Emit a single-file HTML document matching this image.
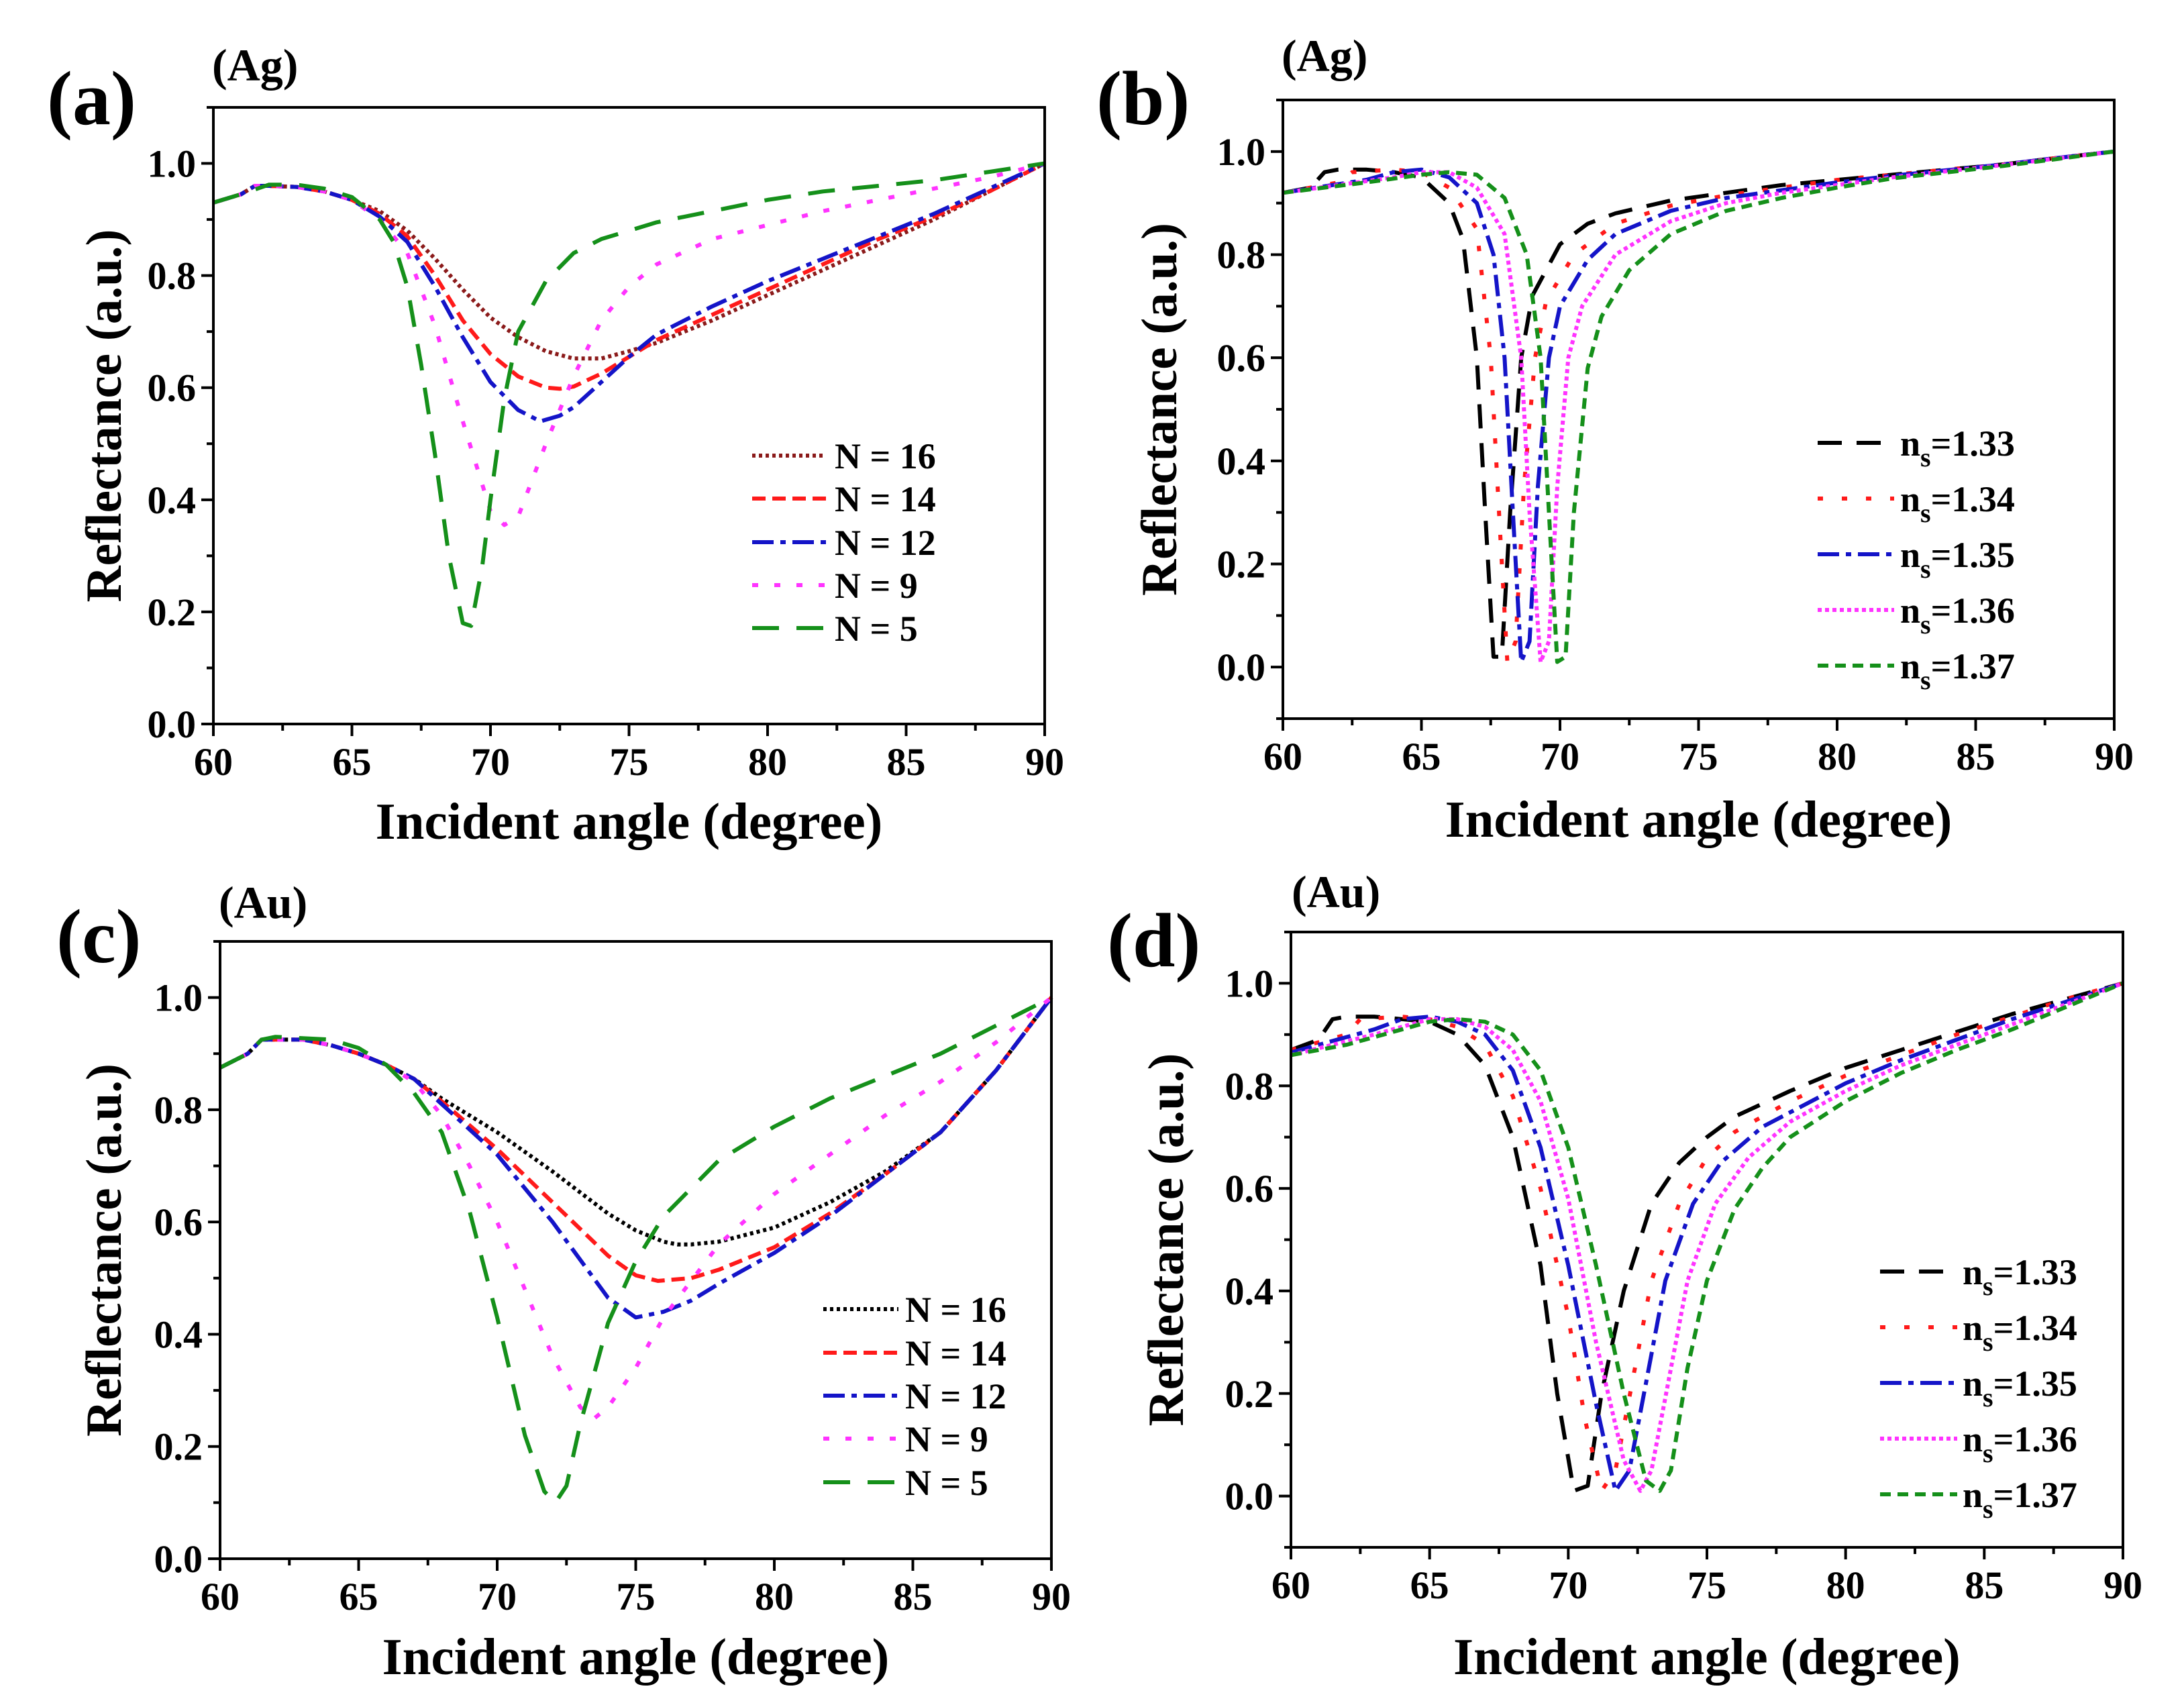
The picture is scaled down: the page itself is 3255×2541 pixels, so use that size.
<!DOCTYPE html>
<html><head><meta charset="utf-8">
<style>
html,body{margin:0;padding:0;background:#fff;}
svg{display:block;font-family:"Liberation Serif",serif;font-weight:bold;}
</style></head>
<body>
<svg id="fig" width="3255" height="2541" viewBox="0 0 3255 2541" xmlns="http://www.w3.org/2000/svg"></svg>
<script>
// ---- Data (angle in degrees, reflectance) ----
const xTicks = [60,65,70,75,80,85,90];
const yTicksA = [0.0,0.2,0.4,0.6,0.8,1.0];
const legendA = ["N = 16","N = 14","N = 12","N = 9","N = 5"];
const legendB = ["1.33","1.34","1.35","1.36","1.37"];

// Panel (a) Ag, layer count
const aX16 = [60,61,61.5,62,63,64,65,66,67,68,69,70,71,72,73,74,75,76,78,80,82,84,86,88,90];
const aY16 = [0.93,0.945,0.96,0.96,0.958,0.95,0.935,0.915,0.88,0.83,0.775,0.725,0.69,0.665,0.652,0.652,0.665,0.68,0.72,0.765,0.81,0.855,0.9,0.95,1.0];
const aX14 = [60,61,61.5,62,63,64,65,66,67,68,69,70,71,72,72.5,73,74,75,76,78,80,82,84,86,88,90];
const aY14 = [0.93,0.945,0.96,0.96,0.958,0.95,0.935,0.91,0.87,0.8,0.72,0.66,0.62,0.6,0.598,0.602,0.625,0.655,0.685,0.73,0.775,0.82,0.865,0.905,0.95,1.0];
const aX12 = [60,61,61.5,62,63,64,65,66,67,68,69,70,71,71.8,72.5,73,74,75,76,78,80,82,84,86,88,90];
const aY12 = [0.93,0.945,0.96,0.96,0.958,0.95,0.935,0.905,0.86,0.78,0.69,0.61,0.56,0.54,0.55,0.565,0.61,0.655,0.695,0.745,0.79,0.83,0.87,0.91,0.955,1.0];
const aX9 = [60,61,61.5,62,63,64,65,66,67,68,69,70,70.5,71,72,73,74,75,76,78,80,82,84,86,88,90];
const aY9 = [0.93,0.945,0.96,0.96,0.958,0.95,0.935,0.9,0.84,0.71,0.54,0.38,0.355,0.37,0.5,0.62,0.72,0.78,0.82,0.865,0.89,0.915,0.935,0.955,0.975,1.0];
const aX5 = [60,61,62,63,64,65,66,66.5,67,67.5,68,68.5,69,69.3,69.7,70,70.5,71,72,73,74,75,76,78,80,82,84,86,88,90];
const aY5 = [0.93,0.945,0.962,0.962,0.955,0.94,0.9,0.86,0.78,0.64,0.48,0.3,0.18,0.175,0.28,0.4,0.58,0.7,0.79,0.84,0.865,0.88,0.895,0.915,0.935,0.95,0.96,0.97,0.985,1.0];

// Panel (b) Ag, analyte index
const bX33 = [60,61,61.5,62,63,64,65,66,66.5,67,67.3,67.6,67.9,68.2,68.6,69,70,71,72,74,76,78,80,82,84,86,88,90];
const bY33 = [0.92,0.93,0.96,0.965,0.965,0.96,0.95,0.9,0.83,0.6,0.3,0.02,0.02,0.3,0.6,0.72,0.82,0.86,0.88,0.905,0.92,0.935,0.945,0.955,0.965,0.975,0.988,1.0];
const bX34 = [60,62,62.5,64,65,66,67,67.5,67.8,68.1,68.4,68.7,69.1,69.5,70.5,72,74,76,78,80,82,84,86,88,90];
const bY34 = [0.92,0.94,0.96,0.965,0.96,0.93,0.85,0.6,0.3,0.01,0.05,0.35,0.6,0.71,0.8,0.86,0.895,0.915,0.93,0.945,0.955,0.965,0.975,0.988,1.0];
const bX35 = [60,63,64,65,66,67,67.6,68,68.3,68.6,68.9,69.2,69.6,70,71,72,74,76,78,80,82,84,86,88,90];
const bY35 = [0.92,0.945,0.96,0.965,0.95,0.9,0.8,0.6,0.3,0.01,0.05,0.35,0.6,0.7,0.79,0.84,0.885,0.91,0.925,0.94,0.953,0.964,0.975,0.988,1.0];
const bX36 = [60,64,65,66,67,68,68.6,68.9,69.3,69.6,69.9,70.3,70.8,72,74,76,78,80,82,84,86,88,90];
const bY36 = [0.92,0.95,0.96,0.96,0.93,0.84,0.6,0.3,0.01,0.05,0.35,0.6,0.7,0.8,0.865,0.9,0.92,0.935,0.95,0.962,0.974,0.987,1.0];
const bX37 = [60,63,65,66,67,68,68.8,69.3,69.6,69.9,70.2,70.5,71,71.5,72.5,74,76,78,80,82,84,86,88,90];
const bY37 = [0.92,0.94,0.955,0.96,0.955,0.91,0.8,0.6,0.3,0.01,0.02,0.3,0.58,0.68,0.77,0.84,0.885,0.91,0.93,0.948,0.96,0.972,0.986,1.0];

// Panel (c) Au, layer count
const cX16 = [60,61,61.5,62,63,64,65,66,67,68,70,72,74,75,76,76.5,77,78,80,82,84,86,88,90];
const cY16 = [0.875,0.9,0.925,0.925,0.925,0.915,0.9,0.88,0.855,0.82,0.76,0.69,0.615,0.585,0.565,0.56,0.56,0.565,0.59,0.635,0.69,0.76,0.87,1.0];
const cX14 = [60,61,61.5,62,63,64,65,66,67,68,70,72,74,75,75.8,77,78,80,82,84,86,88,90];
const cY14 = [0.875,0.9,0.925,0.925,0.925,0.915,0.9,0.88,0.855,0.815,0.73,0.635,0.54,0.505,0.495,0.5,0.515,0.555,0.615,0.685,0.76,0.87,1.0];
const cX12 = [60,61,61.5,62,63,64,65,66,67,68,70,72,74,75,76,77,78,80,82,84,86,88,90];
const cY12 = [0.875,0.9,0.925,0.925,0.925,0.915,0.9,0.88,0.855,0.81,0.72,0.6,0.465,0.43,0.44,0.46,0.49,0.545,0.61,0.685,0.76,0.87,1.0];
const cX9 = [60,61,61.5,62,63,64,65,66,67,68,69,70,71,72,73,73.5,74,75,76,78,80,82,84,86,88,90];
const cY9 = [0.875,0.9,0.925,0.925,0.925,0.915,0.9,0.88,0.85,0.79,0.7,0.6,0.48,0.36,0.27,0.25,0.27,0.34,0.43,0.56,0.65,0.72,0.79,0.85,0.92,1.0];
const cX5 = [60,61,61.5,62,64,65,66,67,68,69,70,71,71.7,72.1,72.5,73,74,75,76,78,80,82,84,86,88,90];
const cY5 = [0.875,0.9,0.925,0.93,0.925,0.91,0.88,0.83,0.76,0.62,0.43,0.22,0.12,0.1,0.13,0.24,0.42,0.53,0.61,0.71,0.77,0.82,0.86,0.9,0.95,1.0];

// Panel (d) Au, analyte index
const dX33 = [60,61,61.5,62,63,64,65,66,67,68,69,69.6,70.2,70.7,71.2,72,73,74,75,76,78,80,82,84,86,88,90];
const dY33 = [0.87,0.89,0.93,0.935,0.935,0.93,0.925,0.9,0.84,0.7,0.45,0.2,0.01,0.02,0.2,0.4,0.57,0.65,0.7,0.74,0.79,0.835,0.87,0.905,0.94,0.97,1.0];
const dX34 = [60,62,62.5,64,65,66,67,68,69,70,70.6,71.2,71.7,72.3,73,74,75,76,78,80,82,84,86,88,90];
const dY34 = [0.87,0.9,0.93,0.935,0.93,0.915,0.88,0.78,0.6,0.35,0.15,0.01,0.05,0.22,0.42,0.57,0.66,0.71,0.77,0.82,0.86,0.9,0.935,0.97,1.0];
const dX35 = [60,63,64,65,66,67,68,69,70,71,71.7,72.2,72.8,73.5,74.5,75.5,77,80,82,84,86,88,90];
const dY35 = [0.865,0.91,0.93,0.935,0.925,0.9,0.83,0.68,0.45,0.18,0.01,0.05,0.22,0.42,0.57,0.65,0.72,0.805,0.85,0.89,0.93,0.965,1.0];
const dX36 = [60,63,65,66,67,68,69,70,71,72,72.6,73,73.6,74.3,75.3,76.5,78,80,82,84,86,88,90];
const dY36 = [0.86,0.9,0.93,0.93,0.915,0.87,0.77,0.58,0.3,0.07,0.01,0.05,0.22,0.42,0.57,0.66,0.73,0.79,0.84,0.88,0.92,0.96,1.0];
const dX37 = [60,62,64,65,66,67,68,69,70,71,72,72.8,73.3,73.7,74.3,75,76,77,78,80,82,84,86,88,90];
const dY37 = [0.86,0.88,0.91,0.925,0.93,0.925,0.9,0.83,0.68,0.45,0.2,0.03,0.01,0.05,0.25,0.42,0.56,0.64,0.7,0.77,0.825,0.87,0.91,0.955,1.0];

const NS = "http://www.w3.org/2000/svg";
const svg = document.getElementById('fig');
function mk(tag, attrs, parent){
  const e = document.createElementNS(NS, tag);
  for (const k in attrs) e.setAttribute(k, attrs[k]);
  (parent||svg).appendChild(e);
  return e;
}

const COL = {brown:"#8b1a1a", red:"#ff1a1a", blue:"#1414c8", mag:"#ff33ff", green:"#15901a", black:"#000"};

function panel(cfg){
  const g = mk('g', {});
  
  
  const L=cfg.L,R=cfg.R,T=cfg.T,B=cfg.B;
  const sx = v => L + (v-60)/30*(R-L);
  const sy = v => B - (v-cfg.ymin)/(cfg.ymax-cfg.ymin)*(B-T);
  cfg.series.forEach((s,i)=>{
    let d = s.x.map((xv,j)=>(j?'L':'M')+sx(xv).toFixed(1)+' '+sy(s.y[j]).toFixed(1)).join(' ');
    const p = mk('path',{d:d,fill:'none',stroke:s.c,'stroke-width':6,'stroke-dasharray':s.dash,'stroke-linejoin':'round'},g);
    
    
  });
  const fr = mk('rect',{x:L,y:T,width:R-L,height:B-T,fill:'none',stroke:'#000','stroke-width':4},g);
  
  
  for (let v=60; v<=90; v+=2.5){
    const major = (v%5===0);
    mk('line',{x1:sx(v),x2:sx(v),y1:B,y2:B+(major?18:10),stroke:'#000','stroke-width':4},g);
  }
  xTicks.forEach(v=>{
    const t = mk('text',{x:sx(v),y:B+76,'text-anchor':'middle','font-size':58},g);
    t.textContent = v;
    
    
  });
  for (let v=Math.round(cfg.ymin*10); v<=Math.round(cfg.ymax*10); v++){
    const yy = v/10; const major = (v%2===0);
    mk('line',{x1:L,x2:L-(major?18:10),y1:sy(yy),y2:sy(yy),stroke:'#000','stroke-width':4},g);
  }
  yTicksA.forEach(v=>{
    const t = mk('text',{x:L-26,y:sy(v)+20,'text-anchor':'end','font-size':58},g);
    t.textContent = v.toFixed(1);
    
    
  });
  const xt = mk('text',{x:(L+R)/2,y:cfg.xtY,'text-anchor':'middle','font-size':77},g);
  xt.textContent = 'Incident angle (degree)';
  
  
  const yc = (T+B)/2;
  const yt = mk('text',{x:0,y:0,'text-anchor':'middle','font-size':75,transform:`translate(${cfg.ytX},${yc}) rotate(-90)`},g);
  yt.textContent = 'Reflectance (a.u.)';
  
  
  const pl = mk('text',{x:cfg.plX,y:cfg.plY,'font-size':114},g);
  pl.textContent = '(' + cfg.id + ')';
  
  
  const ml = mk('text',{x:cfg.mlX,y:cfg.mlY,'font-size':68},g);
  ml.textContent = cfg.metal;
  
  
  cfg.series.forEach((s,i)=>{
    const y = cfg.lgY[i];
    const ln = mk('line',{x1:cfg.lgX1,x2:cfg.lgX2,y1:y,y2:y,stroke:s.c,'stroke-width':6,'stroke-dasharray':s.dash},g);
    
    
    const t = mk('text',{x:cfg.lgTX,y:y+19,'font-size':54},g);
    
    
    if (cfg.ns){
      t.textContent = 'n';
      const sub = mk('tspan',{dy:16,'font-size':40},t); sub.textContent='s';
      const r = mk('tspan',{dy:-16},t); r.textContent = '=' + legendB[i];
    } else {
      t.textContent = legendA[i];
    }
  });
}

const dashN = {n16:"5 5", n14:"20 10", n12:"32 10 8 10", n9:"9 24", n5:"40 26"};
const dashS = {s33:"36 22", s34:"8 28", s35:"32 10 8 10", s36:"6 5", s37:"16 10"};

panel({id:'a',metal:'(Ag)',L:318,R:1557,T:160,B:1079,ymin:0,ymax:1.1,xtY:1250,ytX:180,plX:70,plY:185,mlX:316,mlY:120,
  lgX1:1121,lgX2:1231,lgTX:1244,lgY:[679,743,808,872,936],ns:false,
  series:[{name:'n16',x:aX16,y:aY16,c:COL.brown,dash:dashN.n16},{name:'n14',x:aX14,y:aY14,c:COL.red,dash:dashN.n14},
          {name:'n12',x:aX12,y:aY12,c:COL.blue,dash:dashN.n12},{name:'n9',x:aX9,y:aY9,c:COL.mag,dash:dashN.n9},
          {name:'n5',x:aX5,y:aY5,c:COL.green,dash:dashN.n5}]});
panel({id:'b',metal:'(Ag)',L:1912,R:3151,T:149,B:1071,ymin:-0.1,ymax:1.1,xtY:1247,ytX:1753,plX:1634,plY:185,mlX:1910,mlY:106,
  lgX1:2709,lgX2:2823,lgTX:2832,lgY:[660,743,826,909,992],ns:true,
  series:[{name:'ns133',x:bX33,y:bY33,c:COL.black,dash:dashS.s33},{name:'ns134',x:bX34,y:bY34,c:COL.red,dash:dashS.s34},
          {name:'ns135',x:bX35,y:bY35,c:COL.blue,dash:dashS.s35},{name:'ns136',x:bX36,y:bY36,c:COL.mag,dash:dashS.s36},
          {name:'ns137',x:bX37,y:bY37,c:COL.green,dash:dashS.s37}]});
panel({id:'c',metal:'(Au)',L:328,R:1567,T:1403,B:2323,ymin:0,ymax:1.1,xtY:2495,ytX:180,plX:84,plY:1434,mlX:326,mlY:1368,
  lgX1:1227,lgX2:1339,lgTX:1349,lgY:[1951,2016,2080,2144,2209],ns:false,
  series:[{name:'n16',x:cX16,y:cY16,c:COL.black,dash:dashN.n16},{name:'n14',x:cX14,y:cY14,c:COL.red,dash:dashN.n14},
          {name:'n12',x:cX12,y:cY12,c:COL.blue,dash:dashN.n12},{name:'n9',x:cX9,y:cY9,c:COL.mag,dash:dashN.n9},
          {name:'n5',x:cX5,y:cY5,c:COL.green,dash:dashN.n5}]});
panel({id:'d',metal:'(Au)',L:1924,R:3164,T:1389,B:2306,ymin:-0.1,ymax:1.1,xtY:2495,ytX:1763,plX:1650,plY:1440,mlX:1925,mlY:1352,
  lgX1:2802,lgX2:2917,lgTX:2925,lgY:[1895,1978,2061,2144,2227],ns:true,
  series:[{name:'ns133',x:dX33,y:dY33,c:COL.black,dash:dashS.s33},{name:'ns134',x:dX34,y:dY34,c:COL.red,dash:dashS.s34},
          {name:'ns135',x:dX35,y:dY35,c:COL.blue,dash:dashS.s35},{name:'ns136',x:dX36,y:dY36,c:COL.mag,dash:dashS.s36},
          {name:'ns137',x:dX37,y:dY37,c:COL.green,dash:dashS.s37}]});
</script>
</body></html>
